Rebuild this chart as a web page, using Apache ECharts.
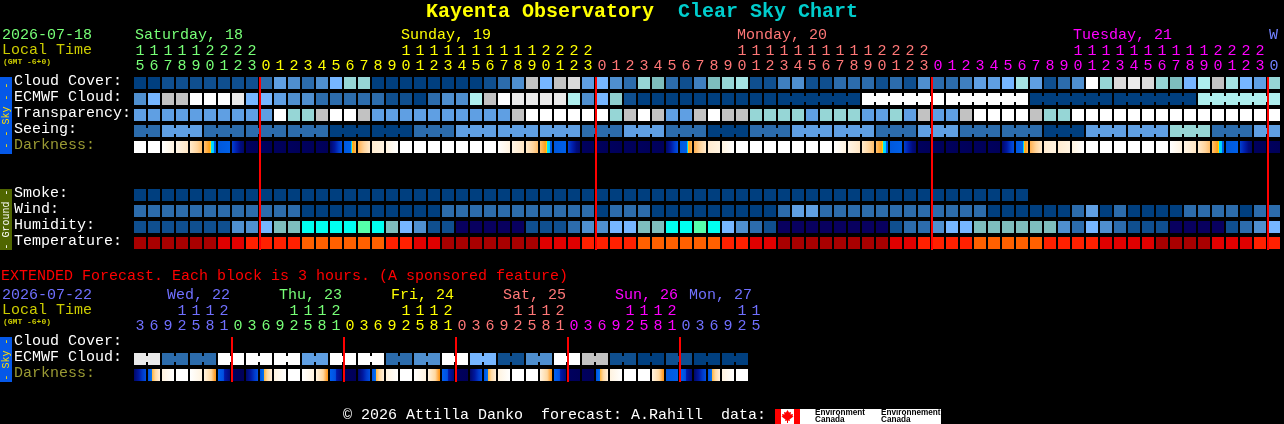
<!DOCTYPE html>
<html><head><meta charset="utf-8">
<style>html,body{margin:0;padding:0;background:#000}#c{width:1284px;height:424px}</style>
<script src="https://cdn.jsdelivr.net/npm/echarts@6/dist/echarts.min.js"></script>
</head><body><div id="c"></div>
<script>
// ---------- Data ----------
const hours = [15,16,17,18,19,20,21,22,23,
 0,1,2,3,4,5,6,7,8,9,10,11,12,13,14,15,16,17,18,19,20,21,22,23,
 0,1,2,3,4,5,6,7,8,9,10,11,12,13,14,15,16,17,18,19,20,21,22,23,
 0,1,2,3,4,5,6,7,8,9,10,11,12,13,14,15,16,17,18,19,20,21,22,23,
 0];
const extHours = [3,6,9,12,15,18,21,
 0,3,6,9,12,15,18,21, 0,3,6,9,12,15,18,21, 0,3,6,9,12,15,18,21, 0,3,6,9,12,15,18,21,
 0,3,6,9,12,15];
const dayColors = ['#77FF77','#FFFF00','#FF7777','#FF00FF','#7080FF'];
const extDayColors = ['#7070FF','#77FF77','#FFFF00','#FF7777','#FF00FF','#7070FF'];
const dayNames = ['Saturday, 18','Sunday, 19','Monday, 20','Tuesday, 21','W'];
const dayStartCols = [0,19,43,67,81];
const extDayNames = ['Wed, 22','Thu, 23','Fri, 24','Sat, 25','Sun, 26','Mon, 27'];
const extDayStartCols = [2.36,10.36,18.36,26.36,34.36,39.64];
const skyRowNames = ['Cloud Cover:','ECMWF Cloud:','Transparency:','Seeing:','Darkness:','','','Smoke:','Wind:','Humidity:','Temperature:'];
const extRowNames = ['Cloud Cover:','ECMWF Cloud:','Darkness:'];

const cloudCover = [0,0,10,10,10,10,10,10,10,20,35,30,20,30,40,60,60,0,0,0,0,
 0,0,0,0,10,20,30,80,40,80,85,35,40,30,20,60,50,20,10,25,50,60,65,10,10,25,30,10,10,20,20,
 20,10,20,10,30,20,20,25,35,35,40,65,35,10,20,30,100,60,85,90,85,60,50,40,70,80,65,40,35,60];
const ecmwf = [30,40,80,80,100,100,100,90,40,40,35,30,30,20,20,20,20,20,10,10,0,
 20,30,30,70,80,100,90,90,90,90,70,30,40,55,10,0,0,0,0,0,0,0,0,0,0,0,0,0,0,0,0,
 100,100,100,100,100,100,100,100,100,100,100,100,0,0,0,0,0,0,0,0,0,0,0,0,70,70,70,70,70,70];
const transparency = [35,35,35,35,35,35,35,35,35,35,100,60,60,80,100,100,80,35,35,35,35,
 35,35,35,35,35,35,80,100,100,100,100,100,100,60,80,100,80,35,35,80,100,80,80,60,60,60,60,35,60,60,60,
 35,35,60,35,80,35,35,80,100,100,100,100,80,60,60,100,100,100,100,100,100,100,100,100,100,100,100,100,100,100];
const seeing = [20,20,35,35,35,20,20,20,20,20,20,20,20,20,0,0,0,0,0,0,20,
 20,20,35,35,35,35,35,35,35,35,35,20,20,20,35,35,35,20,20,20,0,0,0,20,20,20,35,35,35,35,35,
 35,20,20,20,35,35,35,20,20,20,20,20,20,0,0,0,35,35,35,35,35,35,60,60,60,20,20,20,35,35];
const darkness = [0,0,1,2,3,4,5,6,7,7,7,7,7,7,8,9,10,11,12,0,0,
 0,0,0,0,0,1,2,3,4,5,6,7,7,7,7,7,7,8,9,10,11,12,0,0,0,0,0,0,0,1,2,
 3,4,5,6,7,7,7,7,7,7,8,9,10,11,11,12,0,0,0,0,0,0,1,2,3,4,5,6,7,7];
const smoke = [0,0,0,0,0,0,0,0,0,0,0,0,0,0,0,0,0,0,0,0,0,
 0,0,0,0,0,0,0,0,0,0,0,0,0,0,0,0,0,0,0,0,0,0,0,0,0,0,0,0,0,0,0,
 0,0,0,0,0,0,0,0,0,0,0,0];
const wind = [20,20,20,20,20,20,20,20,20,20,20,20,0,0,0,0,0,0,0,0,0,
 0,20,20,20,20,20,20,20,20,20,20,20,0,20,20,20,0,0,0,0,0,0,0,0,0,20,35,35,20,20,20,
 20,20,20,20,20,20,20,20,20,0,0,0,0,0,0,20,35,0,20,0,0,0,0,20,20,20,20,0,20,20];
const humidity = [10,10,10,10,10,10,10,30,30,40,50,50,200,200,200,200,210,200,50,40,30,
 10,10,190,190,190,190,190,10,10,10,20,30,30,40,40,50,50,200,200,210,200,40,30,20,10,190,190,190,190,190,190,
 190,190,10,20,20,30,40,40,50,50,50,50,50,50,30,20,40,30,20,10,10,10,190,190,190,190,10,20,30,40];
const temperature = [300,300,300,300,300,300,310,310,320,320,320,320,330,330,330,330,330,330,320,320,310,
 310,300,300,300,300,300,300,300,310,310,310,320,320,320,320,330,330,330,330,330,330,320,320,310,310,300,300,300,300,300,300,
 300,300,310,310,320,320,320,320,330,330,330,330,330,320,320,320,320,310,310,310,310,300,300,300,300,310,310,310,320,320];
const extEcmwf = [90,90,20,20,20,20,100,100,100,100,100,100,35,35,100,100,100,100,20,20,
 30,30,100,100,40,40,10,10,30,30,100,100,80,80,10,10,0,0,10,10,0,0,0,0];
const extDarkness = [8,21,12,0,1,24,25,7,8,21,12,0,1,24,25,7,8,21,12,0,
 1,24,25,7,8,21,12,0,0,24,25,7,7,21,12,0,0,24,5,25,8,21,12,0];
const footer = '\u00A9 2026 Attilla Danko  forecast: A.Rahill  data:';

// ---------- Styles ----------
const swatch = {0:'#003F7F',10:'#0F4F8F',20:'#2C6CAC',25:'#3F7FBF',30:'#4F8FCF',35:'#5F9FE3',40:'#76B6FF',
 50:'#7EBEBE',55:'#8FCFCF',60:'#96D6D6',65:'#A4E4E4',70:'#AEEEEE',80:'#C2C2C2',85:'#DADADA',90:'#EAEAEA',100:'#FFFFFF',
 190:'#08005F',200:'#00FFF0',210:'#55FFAA',300:'#A80000',310:'#E00000',320:'#FF2000',330:'#FF6000'};
const dkStops = {
 0:[[0,'#FFFFFF'],[1,'#FFFFFF']],
 1:[[0,'#FFFFFF'],[1,'#FFF3E0']],
 2:[[0,'#FFF5E6'],[1,'#FFE6C4']],
 3:[[0,'#FFEACC'],[.6,'#FFD49C'],[1,'#FFBE6A']],
 4:[[0,'#FFC070'],[.45,'#FF9E1C'],[.56,'#FFDD00'],[.6,'#FFDD00'],[.6,'#00E4FF'],[.8,'#00D0FF'],[.8,'#0060E8'],[1,'#0058E0']],
 5:[[0,'#0058DC'],[1,'#0060E8']],
 6:[[0,'#0040D0'],[.35,'#0020B0'],[.7,'#000C80'],[1,'#000868']],
 7:[[0,'#00005E'],[1,'#000058']],
 8:[[0,'#00086A'],[.4,'#0018A0'],[.7,'#0038C8'],[1,'#0050E0']],
 9:[[0,'#0058E0'],[.55,'#0060E8'],[.6,'#00D0FF'],[.64,'#00D0FF'],[.64,'#FFE000'],[.78,'#FFA020'],[1,'#FFBC60']],
 10:[[0,'#FFB050'],[.5,'#FFD49C'],[1,'#FFEACC']],
 11:[[0,'#FFEBD0'],[1,'#FFF3E0']],
 12:[[0,'#FFF3E0'],[1,'#FFFFFF']],
 21:[[0,'#0050E0'],[.3,'#0070F0'],[.3,'#FFB030'],[.6,'#FFD8A0'],[1,'#FFF0DC']],
 24:[[0,'#FFF3E0'],[.6,'#FFD8A0'],[.9,'#FFA030'],[1,'#FF9810']],
 25:[[0,'#0060F0'],[.45,'#0050E0'],[.55,'#0018A8'],[1,'#000A78']]
};
const MONO = '"Liberation Mono","DejaVu Sans Mono",monospace';
const SANS = '"Liberation Sans",sans-serif';
const gridLeft = 133, pitch = 14, rowPitch = 16, cellW = 12, cellH = 12;

// ---------- Rendering helpers ----------
function cellRender(params, api) {
  const cx = api.coord([api.value(0), api.value(1)]);
  const v = api.value(2), bridged = api.value(3);
  const x = cx[0] - cellW/2, y = cx[1] - cellH/2;
  const fill = swatch[v];
  const kids = [{type:'rect', shape:{x, y, width:cellW, height:cellH}, style:{fill}}];
  if (bridged) kids.push({type:'rect', shape:{x:x+cellW, y:y+3, width:pitch-cellW, height:6}, style:{fill}});
  return {type:'group', children:kids};
}
function darkRender(params, api) {
  const cx = api.coord([api.value(0), api.value(1)]);
  const code = api.value(2);
  const stops = dkStops[code].map(s => ({offset:s[0], color:s[1]}));
  return {type:'rect', shape:{x:cx[0]-cellW/2, y:cx[1]-cellH/2, width:cellW, height:cellH},
    style:{fill:new echarts.graphic.LinearGradient(0,0,1,0,stops)}};
}
function redLine(firstRow, lastRow) {
  return function(params, api) {
    const a = api.coord([api.value(0), firstRow]), b = api.coord([api.value(0), lastRow]);
    return {type:'rect', shape:{x:a[0]-pitch/2, y:a[1]-cellH/2, width:2, height:b[1]-a[1]+cellH+1}, style:{fill:'#FF0000'}};
  };
}
function rowSeries(values, row, gi, joined) {
  const data = values.map((v,i) => [i, row, v, joined && i<values.length-1 && joined(i) ? 1 : 0]);
  return {type:'custom', coordinateSystem:'cartesian2d', xAxisIndex:gi, yAxisIndex:gi, renderItem:cellRender, data, silent:true, clip:false, z:2};
}
function darkSeries(values, row, gi) {
  return {type:'custom', coordinateSystem:'cartesian2d', xAxisIndex:gi, yAxisIndex:gi, renderItem:darkRender,
    data:values.map((v,i)=>[i,row,v]), silent:true, clip:false, z:2};
}
function lineSeries(hrs, row0, row1, gi) {
  const data = []; hrs.forEach((h,i)=>{ if(h===0) data.push([i,row0]); });
  return {type:'custom', coordinateSystem:'cartesian2d', xAxisIndex:gi, yAxisIndex:gi, renderItem:redLine(row0,row1), data, silent:true, clip:false, z:5};
}
function colorsByDay(hrs, palette) {
  let d = 0;
  return hrs.map((h,i)=>{ if(h===0 && i>0) d++; return palette[d]; });
}
const mainColors = colorsByDay(hours, dayColors);
const extColors = colorsByDay(extHours, extDayColors);
function hourAxis(gi, hrs, colors, tens) {
  return {type:'category', gridIndex:gi, position:'top', offset:tens?15:0,
    data:hrs.map((h,i)=> tens ? (h>=10 ? String(Math.floor(h/10)) : ' ') : String(h%10)),
    axisLine:{show:false}, axisTick:{show:false}, splitLine:{show:false},
    axisLabel:{show:true, interval:0, hideOverlap:false, margin:1, fontFamily:MONO, fontSize:15,
      color:(v,i)=>colors[i]}};
}
function rowAxis(gi, names) {
  return {type:'category', gridIndex:gi, inverse:true, data:names,
    axisLine:{show:false}, axisTick:{show:false}, splitLine:{show:false},
    axisLabel:{show:true, interval:0, align:'left', margin:119, fontFamily:MONO, fontSize:15, verticalAlign:'bottom', lineHeight:4,
      color:(v)=> v==='Darkness:' ? '#999933' : '#FFFFFF'}};
}
function label(x,y,text,color,size,extra) {
  return {type:'text', x, y, silent:true, style:Object.assign({text, fill:color, fontFamily:MONO, fontSize:size,
     textAlign:'left', textVerticalAlign:'middle'}, extra||{})};
}
function tab(y,h,fill,text,color) {
  return [{type:'rect', shape:{x:0,y,width:12,height:h}, style:{fill}, silent:true},
    {type:'text', x:6, y:y+h/2, rotation:Math.PI/2, silent:true,
     style:{text, fill:color, fontFamily:MONO, fontSize:10, textAlign:'center', textVerticalAlign:'middle'}}];
}
function logoText(x,y,text) {
  return label(x,y,text,'#000000',8.2,{fontFamily:SANS, fontWeight:'bold'});
}
const graphics = [
  label(426,12,'Kayenta Observatory','#FFFF00',20,{fontWeight:'bold'}),
  label(678,12,'Clear Sky Chart','#00CCCC',20,{fontWeight:'bold'}),
  label(2,35,'2026-07-18','#77FF77',15),
  label(2,50,'Local Time','#CCCC00',15),
  label(3,62,'(GMT -6+0)','#CCCC00',8,{fontWeight:'bold'}),
  label(1,276,'EXTENDED Forecast. Each block is 3 hours. (A sponsored feature)','#FF0000',15),
  label(2,295,'2026-07-22','#7070FF',15),
  label(2,310,'Local Time','#CCCC00',15),
  label(3,322,'(GMT -6+0)','#CCCC00',8,{fontWeight:'bold'}),
  label(343,415,footer,'#FFFFFF',15),
  ...tab(77,77,'#0558E8','- - Sky - -','#FFE000'),
  ...tab(189,61,'#506600','- Ground -','#FFFFFF'),
  ...tab(337,45,'#0558E8','- Sky -','#FFE000'),
  {type:'rect', shape:{x:775,y:409,width:166,height:15}, style:{fill:'#FFFFFF'}, silent:true},
  {type:'rect', shape:{x:775,y:409,width:6,height:15}, style:{fill:'#FF0000'}, silent:true},
  {type:'rect', shape:{x:794,y:409,width:6,height:15}, style:{fill:'#FF0000'}, silent:true},
  {type:'polygon', silent:true, style:{fill:'#FF0000'}, shape:{points:[[787.5,410],[789,412.5],[791,412],[790.5,414.5],[793,414],[792.5,416],[793.5,416.5],[789.5,419.5],[790,421],[788,420.5],[788,423],[787,423],[787,420.5],[785,421],[785.5,419.5],[781.5,416.5],[782.5,416],[782,414],[784.5,414.5],[784,412],[786,412.5]]}},
  logoText(815,413,'Environment'),
  logoText(815,420,'Canada'),
  logoText(881,413,'Environnement'),
  logoText(881,420,'Canada')
];
dayNames.forEach((t,i)=>{ const c = dayStartCols[i]; graphics.push(label(gridLeft+c*pitch+2,35,t,mainColors[c],15)); });
extDayNames.forEach((t,i)=>{ graphics.push(label(gridLeft+extDayStartCols[i]*pitch+1,295,t,extDayColors[i],15)); });

const chart = echarts.init(document.getElementById('c'), null, {renderer:'canvas'});
chart.setOption({
  animation:false, backgroundColor:'#000',
  grid:[
    {left:gridLeft, top:75, width:hours.length*pitch, height:skyRowNames.length*rowPitch},
    {left:gridLeft, top:335, width:extHours.length*pitch, height:extRowNames.length*rowPitch}
  ],
  xAxis:[hourAxis(0,hours,mainColors,false), hourAxis(0,hours,mainColors,true),
         hourAxis(1,extHours,extColors,false), hourAxis(1,extHours,extColors,true)],
  yAxis:[rowAxis(0,skyRowNames), rowAxis(1,extRowNames)],
  series:[
    rowSeries(cloudCover,0,0),
    rowSeries(ecmwf,1,0,i=>i>=46 && (i-46)%6!==5),
    rowSeries(transparency,2,0),
    rowSeries(seeing,3,0,i=>i%3!==1),
    darkSeries(darkness,4,0),
    rowSeries(smoke,7,0),
    rowSeries(wind,8,0),
    rowSeries(humidity,9,0),
    rowSeries(temperature,10,0),
    lineSeries(hours,0,10,0),
    Object.assign(rowSeries(extEcmwf,1,2,i=>i%2===0),{xAxisIndex:2,yAxisIndex:1}),
    Object.assign(darkSeries(extDarkness,2,2),{xAxisIndex:2,yAxisIndex:1}),
    Object.assign(lineSeries(extHours,0,2,2),{xAxisIndex:2,yAxisIndex:1})
  ],
  graphic:graphics
});
</script></body></html>
